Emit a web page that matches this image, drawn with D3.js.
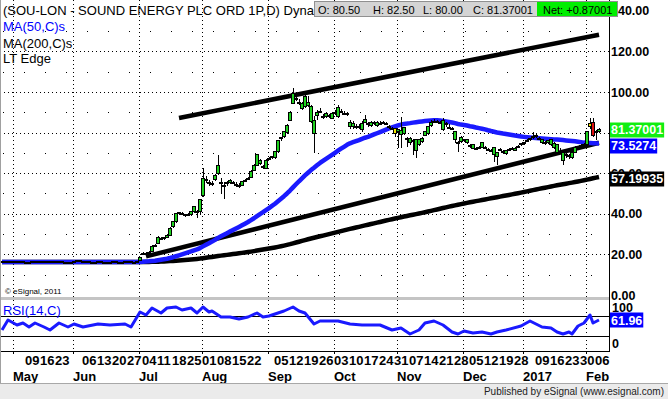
<!DOCTYPE html>
<html>
<head>
<meta charset="utf-8">
<script src="https://cdn.jsdelivr.net/npm/d3@7/dist/d3.min.js"></script>
<style>
  body { margin: 0; background: #fff; }
  text { font-family: "Liberation Sans", Arial, sans-serif; }
</style>
</head>
<body>
<div id="chart"></div>
<script>
// ---- datos ----
// calendario de sesiones (LSE): laborables menos festivos
const firstDay = "2016-04-26"
const lastDay = "2017-02-07"
const holidays = ["2016-05-02", "2016-05-30", "2016-08-29", "2016-12-26", "2016-12-27", "2017-01-02"]

// velas diarias, una por sesión
const opens = [
  16.3,16.2,16.4,16.3,16.1,16.3,16.5,16.4,16.2,16.0,
  16.1,16.3,16.2,16.4,16.6,16.5,16.3,16.2,16.4,16.5,
  16.3,16.2,16.1,16.0,16.2,16.4,16.8,16.6,16.4,16.3,
  16.1,16.0,16.2,16.3,16.2,16.1,16.0,16.2,16.3,16.1,
  16.0,16.2,16.4,16.3,16.1,16.2,17.0,20.3,20.5,20.8,
  21.2,24.0,25.6,27.5,27.8,28.5,29.5,33.5,36.0,40.0,
  40.0,39.4,39.5,39.5,41.0,41.0,41.0,49.0,56.5,55.0,
  54.5,57.0,60.0,55.0,53.8,55.0,55.5,55.0,54.0,53.8,
  54.0,56.0,57.2,58.0,61.5,64.0,65.0,63.0,62.5,67.0,
  67.8,67.5,70.5,77.0,78.0,80.0,86.0,94.5,96.5,94.8,
  92.0,93.0,93.5,85.5,79.5,88.5,90.0,87.5,88.0,88.0,
  87.0,89.5,87.7,90.3,89.3,89.0,82.8,83.0,83.0,82.5,
  81.3,85.0,84.0,83.7,84.3,83.7,84.5,84.5,84.2,82.5,
  82.0,81.8,80.5,79.0,79.8,77.0,74.9,75.5,71.4,74.0,
  75.4,78.8,79.8,83.7,85.5,85.0,84.5,81.3,84.0,82.3,
  82.0,76.4,75.0,75.4,76.0,74.9,73.5,72.4,72.0,72.5,
  72.9,72.4,71.3,71.0,69.0,68.0,71.5,70.5,69.5,71.5,
  72.0,71.4,73.0,74.0,74.5,76.0,76.5,77.8,78.0,77.0,
  74.9,74.5,75.0,74.0,72.5,70.4,70.3,66.5,68.8,68.2,
  67.5,70.4,72.5,73.5,73.5,73.9,84.7,85.2,80.3,80.5
]
const highs = [
  16.6,16.7,16.6,16.5,16.5,16.8,16.7,16.6,16.4,16.3,
  16.5,16.5,16.6,16.9,16.8,16.7,16.5,16.6,16.8,16.7,
  16.5,16.4,16.3,16.4,16.6,17.4,17.0,16.8,16.6,16.5,
  16.3,16.4,16.5,16.5,16.4,16.3,16.4,16.5,16.5,16.3,
  16.4,16.6,16.6,16.5,16.4,16.8,18.8,21.0,21.2,21.5,
  24.5,25.0,29.0,28.6,28.6,30.0,33.5,36.5,40.5,41.0,
  40.8,40.0,40.2,41.5,44.0,42.0,47.5,62.5,58.5,56.5,
  56.0,59.5,69.0,57.5,55.5,56.0,57.0,56.0,55.5,55.0,
  56.0,57.0,58.0,61.5,64.5,69.5,67.0,64.0,67.0,68.0,
  68.5,71.0,76.5,78.0,80.5,84.0,90.5,102.0,99.0,96.5,
  95.0,99.5,98.0,93.5,88.0,91.0,92.0,89.0,90.0,89.0,
  90.0,91.0,93.5,91.5,90.5,90.0,86.0,85.5,84.0,84.0,
  85.5,88.7,85.0,85.8,85.5,85.5,85.5,85.5,85.0,83.5,
  83.0,82.5,82.0,87.5,83.0,78.0,77.8,77.0,77.0,77.0,
  78.0,81.0,83.0,86.0,86.5,86.0,85.8,87.0,85.0,84.0,
  83.0,80.5,76.0,78.5,77.0,76.8,74.5,74.0,73.0,73.5,
  75.5,73.5,72.5,72.0,73.0,70.5,72.5,71.5,71.5,72.2,
  72.8,72.8,73.8,75.0,75.5,76.8,77.5,80.3,79.5,78.0,
  77.0,76.0,76.5,77.0,75.5,74.5,72.5,71.0,70.5,69.5,
  71.0,73.5,73.5,74.5,74.8,81.0,87.2,87.2,81.5,82.5
]
const lows = [
  16.0,16.0,16.1,15.9,15.9,16.1,16.2,16.0,15.8,15.8,
  15.9,16.0,16.0,16.2,16.3,16.1,16.0,16.0,16.2,16.1,
  16.0,15.9,15.7,15.8,16.0,16.2,16.4,16.2,16.1,15.9,
  15.8,15.8,16.0,16.0,15.9,15.7,15.8,16.0,15.9,15.8,
  15.8,16.0,16.1,15.9,15.9,16.0,16.8,19.8,20.0,20.2,
  21.0,23.5,25.2,27.0,27.2,28.0,29.0,33.0,35.5,39.5,
  39.2,38.5,39.0,39.0,40.5,38.0,40.0,48.5,55.0,53.5,
  53.5,56.0,59.0,50.0,47.5,53.5,54.5,54.5,53.0,52.5,
  53.5,55.5,56.5,57.5,61.0,63.5,64.0,62.0,62.0,66.5,
  67.0,67.0,70.0,76.0,77.5,79.5,85.5,94.0,95.5,93.5,
  91.0,92.0,92.5,84.5,70.0,86.0,89.5,86.5,87.0,87.0,
  86.5,88.5,87.0,89.5,88.5,88.0,82.0,82.0,82.0,82.0,
  80.5,84.5,83.0,83.0,83.5,83.0,84.0,84.0,83.5,82.0,
  81.5,77.8,72.5,72.5,79.0,73.0,74.0,69.0,67.5,73.5,
  75.0,78.5,79.0,83.0,84.5,84.5,84.0,81.0,83.0,82.0,
  81.5,75.0,70.5,75.0,75.5,74.5,72.5,72.0,71.5,72.0,
  72.5,72.0,71.0,70.5,65.5,64.0,71.0,69.5,69.0,71.0,
  71.5,71.0,72.5,73.5,74.0,75.5,76.0,77.0,77.5,76.5,
  74.5,74.0,74.5,73.5,72.0,70.0,69.5,64.0,67.5,67.0,
  67.0,70.0,72.0,73.0,73.0,73.5,82.0,78.0,76.4,80.0
]
const closes = [
  16.2,16.4,16.3,16.1,16.3,16.5,16.4,16.2,16.0,16.1,
  16.3,16.2,16.4,16.6,16.5,16.3,16.2,16.4,16.5,16.3,
  16.2,16.1,16.0,16.2,16.4,16.8,16.6,16.4,16.3,16.1,
  16.0,16.2,16.3,16.2,16.1,16.0,16.2,16.3,16.1,16.0,
  16.2,16.4,16.3,16.1,16.2,16.5,18.5,20.5,20.6,21.0,
  24.0,24.5,28.5,28.0,28.2,29.5,33.0,36.0,40.0,40.5,
  39.8,39.5,39.8,41.0,43.5,41.2,47.0,57.5,57.0,55.5,
  55.0,59.0,64.0,55.5,54.0,55.3,56.5,55.2,54.2,54.0,
  55.7,56.5,57.5,61.0,64.0,69.0,66.5,63.2,66.5,67.3,
  68.0,70.5,76.0,77.5,80.3,83.7,90.0,99.5,96.8,95.0,
  94.5,98.0,95.0,93.0,86.0,90.0,90.3,87.8,89.5,88.3,
  89.6,90.0,92.6,90.5,89.5,89.2,85.2,84.5,83.2,82.8,
  84.7,86.5,84.3,85.2,85.0,85.2,84.7,85.0,84.5,82.8,
  82.2,79.8,81.5,81.0,82.3,77.3,77.3,76.0,76.4,76.4,
  77.3,80.3,82.8,85.2,85.7,85.5,85.0,86.2,84.3,82.5,
  82.2,80.3,75.2,77.8,76.5,76.4,73.8,73.9,72.2,72.8,
  74.9,72.6,71.5,71.2,72.9,70.4,71.8,70.8,71.4,71.8,
  72.3,72.4,73.2,74.4,74.9,76.3,77.0,78.2,78.5,77.3,
  76.4,75.0,76.0,76.4,74.5,73.9,70.5,70.4,69.0,68.5,
  70.4,72.9,73.0,73.8,74.2,80.3,82.8,78.8,80.5,81.37001
]

const rsiBar = [0,2,5,7,9,11,14,16,19,22,24,27,32,36,41,43,46,48,50,53,55,58,60,63,65,67,69,70,73,76,
  79,82,85,87,89,92,94,97,99,101,104,106,112,116,120,126,130,133,136,139,141,144,147,150,152,154,157,160,163,165,
  168,173,176,180,183,185,187,189,190,192,194,196,197,199]
const rsiValue = [42,62,52,56,48,56,48,42,56,48,54,48,54,52,54,48,78,72,86,76,86,88,82,86,76,88,78,80,68,68,
  64,68,76,68,70,76,80,88,80,76,54,60,60,54,52,52,42,46,34,42,56,60,52,38,34,40,36,38,34,38,
  42,50,60,48,46,38,34,38,34,50,56,72,56,61.96]

// líneas "LT Edge": fecha y precio de cada extremo
const edgeStart = ["2016-07-20", "2016-07-05"]
const edgeStartValue = [87.2, 19]
const edgeEnd = ["2017-02-07", "2017-02-07"]
const edgeEndValue = [128.2, 75]

// etiquetas (80.00 queda tapado por la etiqueta del último precio)
const priceTicks = [0, 20, 40, 60, 100, 120, 140]
const priceGrid = [20, 40, 60, 80, 100, 120]
const priceMinor = [10, 30, 50, 70, 90, 110, 130]
const dayTicks = ["2016-05-09","2016-05-16","2016-05-23","2016-06-06","2016-06-13","2016-06-20","2016-06-27",
  "2016-07-04","2016-07-11","2016-07-18","2016-07-25","2016-08-01","2016-08-08","2016-08-15","2016-08-22",
  "2016-09-05","2016-09-12","2016-09-19","2016-09-26","2016-10-03","2016-10-10","2016-10-17","2016-10-24","2016-10-31",
  "2016-11-07","2016-11-14","2016-11-21","2016-11-28","2016-12-05","2016-12-12","2016-12-19","2016-12-28",
  "2017-01-09","2017-01-16","2017-01-23","2017-01-30","2017-02-06"]
const monthNames = ["May", "Jun", "Jul", "Aug", "Sep", "Oct", "Nov", "Dec", "2017", "Feb"]
const lastValues = [81.37001, 73.5274, 57.19935]
const lastLabels = ["81.37001", "73.5274", "57.19935"]
const lastColors = ["#11ee11", "#0000ff", "#000000"]
const quote = [["O:", "80.50"], ["H:", "82.50"], ["L:", "80.00"], ["C:", "81.37001"]]
const netText = "Net: +0.87001"

// ---- gráfica ----
const width = 668
const height = 399
const axisX = 609
const priceBottom = 297
const rsiTop = 300
const rsiBottom = 351
const statusTop = 383
const blue = "#1a1aff"
const green = "#1fd21f"

const parse = d3.timeParse("%Y-%m-%d")
const fmt = d3.timeFormat("%Y-%m-%d")
const days = d3.timeDay.range(parse(firstDay), d3.timeDay.offset(parse(lastDay), 1))
  .filter(d => d.getDay() % 6 !== 0 && !holidays.includes(fmt(d)))
  .map(fmt)
const monthStarts = days.filter((d, i) => i > 0 && d.slice(5, 7) !== days[i - 1].slice(5, 7))

const bars = days.map((d, i) => ({date: d, o: opens[i], h: highs[i], l: lows[i], c: closes[i]}))

// media simple; antes de la primera sesión se repite el primer cierre
function sma(values, n) {
  return values.map((v, i) => {
    let s = 0
    for (let k = i - n + 1; k <= i; k++) s += values[Math.max(k, 0)]
    return s / n
  })
}
const ma50 = sma(closes, 50)
const ma200 = sma(closes, 200)

const svg = d3.select("div#chart").append("svg").attr("width", width).attr("height", height)
svg.append("rect").attr("width", width).attr("height", height).attr("fill", "#fff")

const defs = svg.append("defs")
defs.append("clipPath").attr("id", "priceClip").append("rect").attr("x", 0).attr("y", 0).attr("width", axisX).attr("height", priceBottom)
defs.append("clipPath").attr("id", "rsiClip").append("rect").attr("x", 0).attr("y", rsiTop).attr("width", axisX).attr("height", rsiBottom - rsiTop)
defs.append("clipPath").attr("id", "priceLabelClip").append("rect").attr("x", axisX).attr("y", 0).attr("width", width - axisX).attr("height", 300)

// escalas
const x = d3.scaleBand().domain(days).range([0.5, 600.5])
const cx = d => x(d) + x.bandwidth() / 2
const y = d3.scaleLinear().domain([0, 140]).range([295, 10.8])
const yRsi = d3.scaleLinear().domain([0, 100]).range([rsiBottom, rsiTop + 1])

// rejilla
const gridGroup = svg.append("g").attr("class", "gridGroup").attr("stroke", "#000").attr("shape-rendering", "crispEdges")
monthStarts.forEach(d => {
  gridGroup.append("line").attr("x1", cx(d) - 0.5).attr("x2", cx(d) - 0.5).attr("y1", 0).attr("y2", priceBottom).attr("stroke-dasharray", "1,3")
  gridGroup.append("line").attr("x1", cx(d) - 0.5).attr("x2", cx(d) - 0.5).attr("y1", rsiTop).attr("y2", rsiBottom).attr("stroke-dasharray", "1,3")
  gridGroup.append("line").attr("x1", cx(d) - 0.5).attr("x2", cx(d) - 0.5).attr("y1", rsiBottom).attr("y2", rsiBottom + 3)
})
priceGrid.forEach(v => {
  gridGroup.append("line").attr("x1", 0).attr("x2", axisX).attr("y1", Math.round(y(v)) + 0.5).attr("y2", Math.round(y(v)) + 0.5).attr("stroke-dasharray", "1,3")
})
priceMinor.forEach(v => {
  gridGroup.append("line").attr("x1", 3).attr("x2", axisX).attr("y1", Math.round(y(v)) + 0.5).attr("y2", Math.round(y(v)) + 0.5).attr("stroke-dasharray", "1,20")
})
;[70, 30].forEach(v => {
  gridGroup.append("line").attr("x1", 0).attr("x2", axisX).attr("y1", Math.round(yRsi(v)) + 0.5).attr("y2", Math.round(yRsi(v)) + 0.5)
})

// panel de precio
const priceGroup = svg.append("g").attr("class", "priceGroup").attr("clip-path", "url(#priceClip)")

const maLine = vals => d3.line().x((d, i) => cx(days[i])).y(d => y(d))(vals)

// líneas LT Edge
edgeStart.forEach((d, k) => {
  priceGroup.append("line")
    .attr("x1", cx(d)).attr("y1", y(edgeStartValue[k]))
    .attr("x2", cx(edgeEnd[k])).attr("y2", y(edgeEndValue[k]))
    .attr("stroke", "#000").attr("stroke-width", 4.5)
})

priceGroup.append("path").attr("d", maLine(ma200)).attr("fill", "none").attr("stroke", "#000").attr("stroke-width", 4.5).attr("stroke-linejoin", "round")
priceGroup.append("path").attr("d", maLine(ma50)).attr("fill", "none").attr("stroke", blue).attr("stroke-width", 4.5).attr("stroke-linejoin", "round")

// velas
const candles = priceGroup.append("g").attr("class", "candles").attr("shape-rendering", "crispEdges")
candles.selectAll("line").data(bars).enter().append("line")
  .attr("x1", d => cx(d.date) + 0.5).attr("x2", d => cx(d.date) + 0.5)
  .attr("y1", d => y(d.h)).attr("y2", d => y(d.l))
  .attr("stroke", "#000")
candles.selectAll("rect").data(bars).enter().append("rect")
  .attr("x", d => x(d.date))
  .attr("y", d => y(Math.max(d.o, d.c)))
  .attr("width", 3)
  .attr("height", d => Math.max(1, Math.abs(y(d.o) - y(d.c))))
  .attr("fill", d => d.c >= d.o ? green : (d.o - d.c < 2.5 ? "#f2e600" : "#e01010"))
  .attr("stroke", "#000")

// panel RSI
const rsiGroup = svg.append("g").attr("class", "rsiGroup").attr("clip-path", "url(#rsiClip)")
rsiGroup.append("path")
  .attr("d", d3.line().x((d, i) => cx(days[d])).y((d, i) => yRsi(rsiValue[i]))(rsiBar))
  .attr("fill", "none").attr("stroke", blue).attr("stroke-width", 3).attr("stroke-linejoin", "round")

// separador y bordes
svg.append("rect").attr("x", 0).attr("y", priceBottom).attr("width", axisX).attr("height", 3).attr("fill", "#c4c4c4")
svg.append("line").attr("x1", axisX + 0.5).attr("x2", axisX + 0.5).attr("y1", 0).attr("y2", rsiBottom + 1).attr("stroke", "#000")
svg.append("line").attr("x1", 0).attr("x2", axisX).attr("y1", rsiBottom + 0.5).attr("y2", rsiBottom + 0.5).attr("stroke", "#000")
svg.append("line").attr("x1", 0.5).attr("x2", 0.5).attr("y1", 0).attr("y2", statusTop).attr("stroke", "#a0a0a0")

// ejes
const yAxisClip = svg.append("g").attr("clip-path", "url(#priceLabelClip)")
const yAxisGroup = yAxisClip.append("g").attr("class", "yAxisGroup").attr("transform", `translate(${axisX}, 0)`)
yAxisGroup.call(d3.axisRight(y).tickValues(priceTicks).tickFormat(d3.format(".2f")).tickSize(0).tickPadding(2))
yAxisGroup.select(".domain").remove()
yAxisGroup.selectAll("text").attr("font-size", "12.5px").attr("font-weight", "bold").attr("font-family", "Liberation Sans, Arial").attr("fill", "#000")

const rsiAxisGroup = svg.append("g").attr("class", "rsiAxisGroup")
rsiAxisGroup.append("text").attr("x", axisX + 3).attr("y", rsiTop + 12).text("100")
rsiAxisGroup.append("text").attr("x", axisX + 3).attr("y", rsiBottom - 3).text("0")
rsiAxisGroup.selectAll("text").attr("font-size", "12.5px").attr("font-weight", "bold")

// etiquetas de último valor
const tagGroup = svg.append("g").attr("class", "tagGroup")
function tag(value, label, color, scale) {
  const t = tagGroup.append("text").attr("x", axisX + 2).attr("y", scale(value)).attr("dy", "0.36em")
    .attr("font-size", "12.5px").attr("font-weight", "bold").attr("fill", "#fff").text(label)
  const w = t.node().getComputedTextLength()
  tagGroup.insert("rect", "text").attr("x", axisX + 1).attr("y", Math.round(scale(value)) - 7.5).attr("width", w + 2).attr("height", 15).attr("fill", color)
}
lastValues.forEach((v, k) => tag(v, lastLabels[k], lastColors[k], y))
tag(rsiValue[rsiValue.length - 1], d3.format(".2f")(rsiValue[rsiValue.length - 1]), "#0000ff", yRsi)

const xAxisGroup = svg.append("g").attr("class", "xAxisGroup").attr("transform", `translate(0, ${rsiBottom})`)
xAxisGroup.call(d3.axisBottom(x).tickValues(dayTicks).tickFormat(d => d.slice(8)).tickSize(0).tickPadding(0))
xAxisGroup.select(".domain").remove()
xAxisGroup.selectAll("text").attr("text-anchor", "start").attr("x", -1).attr("y", 14).attr("dy", 0)
  .attr("font-size", "13px").attr("font-weight", "bold").attr("fill", "#000")

const monthAxisGroup = svg.append("g").attr("class", "monthAxisGroup").attr("transform", `translate(0, ${rsiBottom})`)
monthAxisGroup.call(d3.axisBottom(x).tickValues(monthStarts).tickFormat((d, i) => monthNames[i]).tickSize(0).tickPadding(0))
monthAxisGroup.select(".domain").remove()
monthAxisGroup.selectAll("text").attr("text-anchor", "start").attr("x", -1).attr("y", 30).attr("dy", 0)
  .attr("font-size", "13px").attr("font-weight", "bold").attr("fill", "#000")

// textos del panel
svg.append("text").attr("x", 3).attr("y", 15).attr("font-size", "13px").text("(SOU-LON - SOUND ENERGY PLC ORD 1P,D) Dyna")
svg.append("text").attr("x", 3).attr("y", 30.5).attr("font-size", "13px").attr("fill", "#0000ff").text("MA(50,C)s")
svg.append("text").attr("x", 3).attr("y", 47.5).attr("font-size", "13px").text("MA(200,C)s")
svg.append("text").attr("x", 3).attr("y", 63).attr("font-size", "13px").text("LT Edge")
svg.append("text").attr("x", 3).attr("y", 315).attr("font-size", "13px").attr("fill", "#0000ff").text("RSI(14,C)")
svg.append("text").attr("x", 5).attr("y", 294).attr("font-size", "8px").text("© eSignal, 2011")

// cabecera con la cotización
const head = svg.append("g").attr("class", "head")
head.append("rect").attr("x", 314.5).attr("y", 1.5).attr("width", 303).attr("height", 15).attr("fill", "#d4d4d4").attr("stroke", "#909090")
const quoteX = [318, 373, 423, 473]
quote.forEach((q, k) => {
  head.append("text").attr("x", quoteX[k]).attr("y", 13.5).attr("font-size", "11px").text(q[0] + " " + q[1])
})
head.append("rect").attr("x", 537).attr("y", 2).attr("width", 80).attr("height", 14).attr("fill", "#00ee00")
head.append("text").attr("x", 543).attr("y", 13.5).attr("font-size", "11px").text(netText)

// barra de estado
svg.append("rect").attr("x", 0).attr("y", statusTop).attr("width", width).attr("height", height - statusTop).attr("fill", "#ebebeb")
svg.append("line").attr("x1", 0).attr("x2", width).attr("y1", statusTop + 0.5).attr("y2", statusTop + 0.5).attr("stroke", "#a8a8a8")
svg.append("text").attr("x", 664).attr("y", 395).attr("text-anchor", "end").attr("font-size", "10px").attr("fill", "#222")
  .text("Published by eSignal (www.esignal.com)")
</script>
</body>
</html>
